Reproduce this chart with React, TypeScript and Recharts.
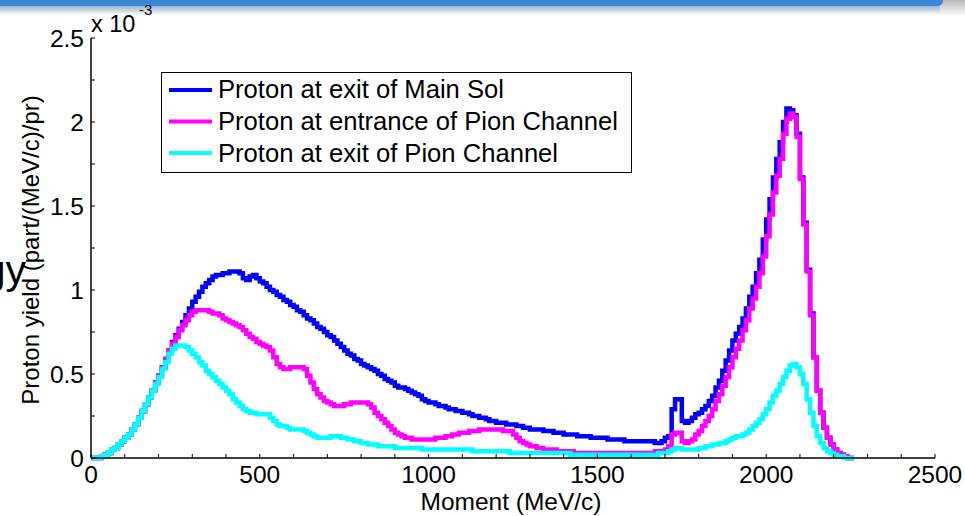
import { LineChart, Line, XAxis, YAxis, Legend } from "recharts";

// histogram bins of 10 MeV/c, starting at 0
const BIN = 10;

// proton yield, x 1e-3 part/(MeV/c)/pr
const mainSolExit = [
  0, 0, 0, 0.01, 0.02, 0.03, 0.05, 0.06, 0.08, 0.1,
  0.12, 0.14, 0.17, 0.2, 0.24, 0.28, 0.32, 0.36, 0.4, 0.45,
  0.49, 0.54, 0.59, 0.64, 0.69, 0.73, 0.77, 0.81, 0.85, 0.89,
  0.93, 0.96, 0.99, 1.02, 1.04, 1.06, 1.08, 1.09, 1.09, 1.1,
  1.1, 1.11, 1.11, 1.11, 1.1, 1.07, 1.06, 1.08, 1.09, 1.07,
  1.05, 1.04, 1.02, 1.0, 0.99, 0.97, 0.96, 0.94, 0.93, 0.91,
  0.9, 0.88, 0.87, 0.85, 0.83, 0.82, 0.8, 0.78, 0.77, 0.75,
  0.73, 0.72, 0.7, 0.68, 0.66, 0.64, 0.62, 0.61, 0.59, 0.58,
  0.56, 0.55, 0.54, 0.53, 0.52, 0.5, 0.49, 0.47, 0.46, 0.45,
  0.43, 0.42, 0.42, 0.41, 0.4, 0.39, 0.38, 0.37, 0.35, 0.34,
  0.33, 0.33, 0.32, 0.31, 0.31, 0.3, 0.29, 0.29, 0.28, 0.28,
  0.27, 0.27, 0.26, 0.25, 0.25, 0.24, 0.24, 0.23, 0.22, 0.22,
  0.21, 0.21, 0.21, 0.2, 0.2, 0.2, 0.19, 0.19, 0.18, 0.18,
  0.17, 0.17, 0.17, 0.17, 0.16, 0.16, 0.16, 0.15, 0.15, 0.15,
  0.14, 0.14, 0.14, 0.14, 0.13, 0.13, 0.13, 0.13, 0.12, 0.12,
  0.12, 0.12, 0.12, 0.11, 0.11, 0.11, 0.11, 0.11, 0.1, 0.1,
  0.1, 0.1, 0.1, 0.1, 0.1, 0.1, 0.1, 0.09, 0.09, 0.1,
  0.12, 0.13, 0.29, 0.35, 0.35, 0.22, 0.21, 0.22, 0.24, 0.26,
  0.27, 0.29, 0.31, 0.34, 0.37, 0.42, 0.46, 0.52, 0.58, 0.64,
  0.7, 0.74, 0.78, 0.83, 0.89, 0.96, 1.02, 1.1, 1.18, 1.3,
  1.42, 1.54, 1.67, 1.78, 1.88, 2.0, 2.08, 2.07, 2.04, 1.93,
  1.67, 1.4, 1.12, 0.86, 0.6, 0.4, 0.27, 0.18, 0.12, 0.08,
  0.05, 0.03, 0.02, 0.01, 0, 0, 0,
];

const pionEntrance = [
  0, 0, 0, 0.01, 0.02, 0.03, 0.05, 0.06, 0.08, 0.1,
  0.12, 0.14, 0.17, 0.2, 0.24, 0.28, 0.32, 0.36, 0.4, 0.45,
  0.49, 0.54, 0.59, 0.64, 0.68, 0.72, 0.76, 0.79, 0.82, 0.85,
  0.87, 0.88, 0.88, 0.88, 0.88, 0.87, 0.86, 0.86, 0.85, 0.83,
  0.82, 0.81, 0.8, 0.79, 0.78, 0.76, 0.74, 0.72, 0.71, 0.69,
  0.68, 0.67, 0.66, 0.64, 0.6, 0.56, 0.54, 0.53, 0.53, 0.54,
  0.54, 0.54, 0.54, 0.53, 0.49, 0.45, 0.41, 0.38, 0.36, 0.34,
  0.33, 0.32, 0.31, 0.31, 0.31, 0.32, 0.32, 0.33, 0.33, 0.33,
  0.33, 0.33, 0.32, 0.3, 0.27, 0.25, 0.23, 0.21, 0.19, 0.17,
  0.15, 0.14, 0.13, 0.12, 0.12, 0.11, 0.11, 0.11, 0.11, 0.11,
  0.11, 0.11, 0.12, 0.12, 0.12, 0.13, 0.13, 0.14, 0.14, 0.15,
  0.15, 0.15, 0.16, 0.16, 0.16, 0.17, 0.17, 0.17, 0.17, 0.17,
  0.17, 0.17, 0.16, 0.16, 0.16, 0.14, 0.12, 0.1, 0.09, 0.08,
  0.07, 0.07, 0.06, 0.06, 0.05, 0.05, 0.05, 0.05, 0.04, 0.04,
  0.04, 0.04, 0.04, 0.03, 0.03, 0.03, 0.03, 0.03, 0.03, 0.03,
  0.03, 0.03, 0.03, 0.03, 0.03, 0.03, 0.03, 0.03, 0.03, 0.03,
  0.03, 0.03, 0.03, 0.03, 0.03, 0.03, 0.03, 0.04, 0.04, 0.04,
  0.05, 0.07, 0.14, 0.15, 0.15, 0.1, 0.09, 0.1, 0.11, 0.14,
  0.16, 0.19, 0.22, 0.25, 0.29, 0.34, 0.38, 0.43, 0.48, 0.54,
  0.6, 0.65, 0.7, 0.76, 0.82, 0.89, 0.95, 1.02, 1.1, 1.2,
  1.32, 1.45, 1.58, 1.68, 1.78, 1.93, 2.02, 2.05, 2.03, 1.91,
  1.66, 1.39, 1.11, 0.85, 0.6, 0.4, 0.27, 0.18, 0.12, 0.08,
  0.05, 0.03, 0.02, 0.01, 0, 0, 0,
];

const pionExit = [
  0, 0, 0, 0.01, 0.02, 0.03, 0.05, 0.06, 0.08, 0.1,
  0.12, 0.14, 0.17, 0.2, 0.24, 0.28, 0.32, 0.36, 0.4, 0.44,
  0.48, 0.53, 0.57, 0.62, 0.65, 0.67, 0.67, 0.67, 0.66, 0.64,
  0.62, 0.6, 0.57, 0.55, 0.52, 0.5, 0.48, 0.46, 0.44, 0.42,
  0.4, 0.38, 0.35, 0.33, 0.31, 0.29, 0.28, 0.27, 0.27, 0.26,
  0.26, 0.26, 0.26, 0.24, 0.22, 0.2, 0.19, 0.19, 0.18, 0.17,
  0.17, 0.17, 0.17, 0.16, 0.15, 0.14, 0.13, 0.12, 0.12, 0.12,
  0.12, 0.13, 0.13, 0.13, 0.12, 0.12, 0.11, 0.11, 0.1, 0.1,
  0.09, 0.09, 0.08, 0.08, 0.08, 0.07, 0.07, 0.07, 0.07, 0.07,
  0.06, 0.06, 0.06, 0.06, 0.06, 0.06, 0.06, 0.06, 0.05, 0.05,
  0.05, 0.05, 0.05, 0.05, 0.05, 0.05, 0.05, 0.05, 0.05, 0.05,
  0.05, 0.05, 0.05, 0.04, 0.04, 0.04, 0.04, 0.04, 0.04, 0.04,
  0.04, 0.04, 0.04, 0.04, 0.03, 0.03, 0.03, 0.03, 0.03, 0.03,
  0.03, 0.03, 0.03, 0.03, 0.03, 0.03, 0.03, 0.03, 0.03, 0.03,
  0.03, 0.03, 0.02, 0.02, 0.02, 0.02, 0.02, 0.02, 0.02, 0.02,
  0.02, 0.02, 0.02, 0.02, 0.02, 0.02, 0.02, 0.02, 0.02, 0.02,
  0.02, 0.02, 0.02, 0.02, 0.02, 0.02, 0.02, 0.02, 0.03, 0.03,
  0.03, 0.04, 0.05, 0.06, 0.06, 0.05, 0.05, 0.05, 0.05, 0.05,
  0.06, 0.06, 0.07, 0.07, 0.08, 0.08, 0.09, 0.09, 0.1, 0.11,
  0.12, 0.13, 0.13, 0.14, 0.15, 0.17, 0.19, 0.21, 0.23, 0.26,
  0.29, 0.33, 0.37, 0.4, 0.44, 0.48, 0.52, 0.55, 0.56, 0.54,
  0.5, 0.44, 0.35, 0.27, 0.19, 0.13, 0.09, 0.06, 0.04, 0.03,
  0.02, 0.01, 0.01, 0, 0, 0, 0,
];

const seriesNames = [
  "Proton at exit of Main Sol",
  "Proton at entrance of Pion Channel",
  "Proton at exit of Pion Channel",
];
const seriesColors = ["#0000ff", "#ff00ff", "#00ffff"];

const xTicks = [
  0, 100, 200, 300, 400, 500, 600, 700, 800, 900, 1000, 1100, 1200,
  1300, 1400, 1500, 1600, 1700, 1800, 1900, 2000, 2100, 2200, 2300,
  2400, 2500,
];
const xLabels = [0, 500, 1000, 1500, 2000, 2500];
const yTicks = [0, 0.25, 0.5, 0.75, 1, 1.25, 1.5, 1.75, 2, 2.25, 2.5];
const yLabels = [0, 0.5, 1, 1.5, 2, 2.5];

const data = mainSolExit.map((v, i) => ({
  m: i * BIN,
  main: v,
  entrance: pionEntrance[i],
  exit: pionExit[i],
}));

const FONT = "'Liberation Sans', Arial, sans-serif";

const BottomTick = (props: any) => {
  const { x, y, payload } = props;
  return (
    <g>
      <line x1={x} y1={y} x2={x} y2={y - 4} stroke="#000" />
      {xLabels.includes(payload.value) && (
        <text x={x} y={y + 25} textAnchor="middle" fontSize={24.5} fontFamily={FONT} fill="#000">
          {payload.value}
        </text>
      )}
    </g>
  );
};

const TopTick = (props: any) => {
  const { x, y } = props;
  return <line x1={x} y1={y} x2={x} y2={y + 4} stroke="#000" />;
};

const LeftTick = (props: any) => {
  const { x, y, payload } = props;
  return (
    <g>
      <line x1={x} y1={y} x2={x + 4} y2={y} stroke="#000" />
      {yLabels.includes(payload.value) && (
        <text x={x - 7} y={y + 8.5} textAnchor="end" fontSize={24.5} fontFamily={FONT} fill="#000">
          {payload.value}
        </text>
      )}
    </g>
  );
};

const RightTick = (props: any) => {
  const { x, y } = props;
  return <line x1={x} y1={y} x2={x - 4} y2={y} stroke="#000" />;
};

const LegendBox = () => (
  <svg width={471} height={101} style={{ display: "block", background: "#fff" }}>
    <rect x={0.5} y={0.5} width={470} height={100} fill="#fff" stroke="#000" />
    {seriesNames.map((name, i) => (
      <g key={name}>
        <line x1={8} x2={51} y1={18 + i * 31.5} y2={18 + i * 31.5} stroke={seriesColors[i]} strokeWidth={4} />
        <text x={57} y={26 + i * 32} fontSize={25.6} fontFamily={FONT} fill="#000">
          {name}
        </text>
      </g>
    ))}
  </svg>
);

export default function App() {
  return (
    <div style={{ position: "absolute", left: 0, top: 0, width: 965, height: 516, background: "#fff", overflow: "hidden" }}>
      {/* slide header strip */}
      <div style={{ position: "absolute", left: 0, top: 0, width: 965, height: 16, background: "linear-gradient(to bottom, #b8b8b8, #ffffff)" }} />
      <div style={{ position: "absolute", left: 0, top: 0, width: 943, height: 6, background: "#3b89d6", borderBottomRightRadius: 5 }} />
      <div style={{ position: "absolute", left: 0, top: 6, width: 940, height: 8, background: "linear-gradient(to bottom, rgba(59,137,214,0.35), rgba(255,255,255,0))" }} />

      <svg width={965} height={516} style={{ position: "absolute", left: 0, top: 0 }}>
        <text x={26} y={284} textAnchor="end" fontSize={41} fontFamily={FONT} fill="#000">
          gy
        </text>
      </svg>

      <div style={{ position: "absolute", left: 0, top: 0 }}>
        <LineChart width={965} height={516} data={data} margin={{ top: 38, right: 30, bottom: 28, left: 41 }}>
          <XAxis
            dataKey="m"
            type="number"
            domain={[0, 2500]}
            ticks={xTicks}
            interval={0}
            height={30}
            tickSize={0}
            tickMargin={0}
            tickLine={false}
            axisLine={{ stroke: "#000", strokeWidth: 1.5 }}
            tick={<BottomTick />}
          />
          <XAxis
            xAxisId="top"
            orientation="top"
            dataKey="m"
            type="number"
            domain={[0, 2500]}
            allowDataOverflow
            ticks={xTicks}
            interval={0}
            height={0}
            tickSize={0}
            tickMargin={0}
            tickLine={false}
            axisLine={{ stroke: "#000", strokeWidth: 1.5 }}
            tick={<TopTick />}
          />
          <YAxis
            type="number"
            domain={[0, 2.5]}
            ticks={yTicks}
            interval={0}
            width={50}
            tickSize={0}
            tickMargin={0}
            tickLine={false}
            axisLine={{ stroke: "#000", strokeWidth: 1.5 }}
            tick={<LeftTick />}
          />
          <YAxis
            yAxisId="right"
            orientation="right"
            type="number"
            domain={[0, 2.5]}
            allowDataOverflow
            ticks={yTicks}
            interval={0}
            width={0}
            tickSize={0}
            tickMargin={0}
            tickLine={false}
            axisLine={{ stroke: "#000", strokeWidth: 1.5 }}
            tick={<RightTick />}
          />
          <Line type="stepAfter" dataKey="main" name={seriesNames[0]} stroke={seriesColors[0]} strokeWidth={4.5} dot={false} isAnimationActive={false} />
          <Line type="stepAfter" dataKey="entrance" name={seriesNames[1]} stroke={seriesColors[1]} strokeWidth={4.5} dot={false} isAnimationActive={false} />
          <Line type="stepAfter" dataKey="exit" name={seriesNames[2]} stroke={seriesColors[2]} strokeWidth={4.5} dot={false} isAnimationActive={false} />
          <Legend
            layout="vertical"
            align="center"
            verticalAlign="middle"
            wrapperStyle={{ left: 161, top: 72, width: 471, height: 101 }}
            content={() => <LegendBox />}
          />
        </LineChart>
      </div>

      <svg width={965} height={516} style={{ position: "absolute", left: 0, top: 0, pointerEvents: "none" }}>
        <text x={39} y={250} transform="rotate(-90 39 250)" textAnchor="middle" fontSize={24} fontFamily={FONT} fill="#000">
          Proton yield (part/(MeV/c)/pr)
        </text>
        <text x={511} y={510} textAnchor="middle" fontSize={24.5} fontFamily={FONT} fill="#000">
          Moment (MeV/c)
        </text>
        <text x={91} y={32} fontSize={23.5} fontFamily={FONT} fill="#000">
          x 10
        </text>
        <text x={139} y={15} fontSize={15} fontFamily={FONT} fill="#000">
          -3
        </text>
      </svg>
    </div>
  );
}
